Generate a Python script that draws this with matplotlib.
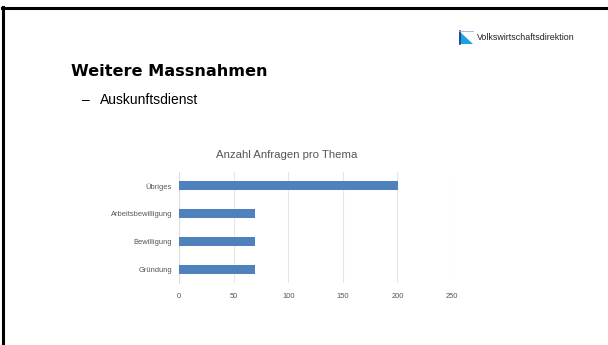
import matplotlib
matplotlib.use("Agg")
import matplotlib.pyplot as plt
from matplotlib.patches import Polygon
from matplotlib.lines import Line2D

categories = ["Gründung", "Bewilligung", "Arbeitsbewilligung", "Übriges"]
values = [70, 70, 70, 201]
xticks = [0, 50, 100, 150, 200, 250]

W, H = 608, 345
fig = plt.figure(figsize=(W / 100, H / 100), dpi=100)
fig.patch.set_facecolor("white")

def fx(x):
    return x / W

def fy(y):
    return 1 - y / H

# slide borders
fig.add_artist(Line2D([fx(2), fx(608)], [fy(8), fy(8)], color="black", lw=2.2, transform=fig.transFigure))
fig.add_artist(Line2D([fx(3), fx(3)], [fy(7), fy(345)], color="black", lw=2.2, transform=fig.transFigure))

# logo
fig.add_artist(Polygon([[fx(459), fy(31)], [fx(473), fy(44)], [fx(459), fy(44)]], closed=True,
                       facecolor="#1aa3e0", edgecolor="none", transform=fig.transFigure))
fig.add_artist(Line2D([fx(459.5), fx(459.5)], [fy(31), fy(44)], color="#1f3f8f", lw=1.2, transform=fig.transFigure))
fig.add_artist(Line2D([fx(459), fx(473)], [fy(31.3), fy(31.3)], color="#9ab0cc", lw=0.6, transform=fig.transFigure))
fig.text(fx(477), fy(37.5), "Volkswirtschaftsdirektion", fontsize=6.4, color="#222222",
         ha="left", va="center", family="Liberation Sans")

# headings
fig.text(fx(71), fy(71), "Weitere Massnahmen", fontsize=11.6, fontweight="heavy",
         color="black", ha="left", va="center", family="DejaVu Sans")
fig.text(fx(82), fy(100), "–", fontsize=10, color="black", ha="left", va="center", family="Liberation Sans")
fig.text(fx(100), fy(100), "Auskunftsdienst", fontsize=10, color="black", ha="left", va="center",
         family="Liberation Sans")

# chart
ax = fig.add_axes([fx(179), fy(283), fx(452) - fx(179), (283 - 172) / H])
ypos = list(range(len(categories)))
ax.barh(ypos, values, height=0.33, color="#4f81bd", zorder=3)
ax.set_xlim(0, 250)
ax.set_ylim(-0.5, len(categories) - 0.5)
ax.set_xticks(xticks)
ax.set_xticklabels([str(t) for t in xticks])
ax.set_yticks(ypos)
ax.set_yticklabels(categories)
ax.grid(axis="x", color="#e6e6e6", lw=0.8, zorder=0)
for s in ["top", "right", "bottom"]:
    ax.spines[s].set_visible(False)
ax.spines["left"].set_color("#dddddd")
ax.spines["left"].set_linewidth(0.8)
ax.tick_params(axis="both", length=0, labelsize=5.4, labelcolor="#555555", pad=5)
ax.tick_params(axis="x", pad=7)
for lab in ax.get_xticklabels() + ax.get_yticklabels():
    lab.set_family("Liberation Sans")

fig.text(fx(287), fy(155), "Anzahl Anfragen pro Thema", fontsize=8.2, color="#555555",
         ha="center", va="center", family="Liberation Sans")

fig.savefig("out.png", dpi=100)
